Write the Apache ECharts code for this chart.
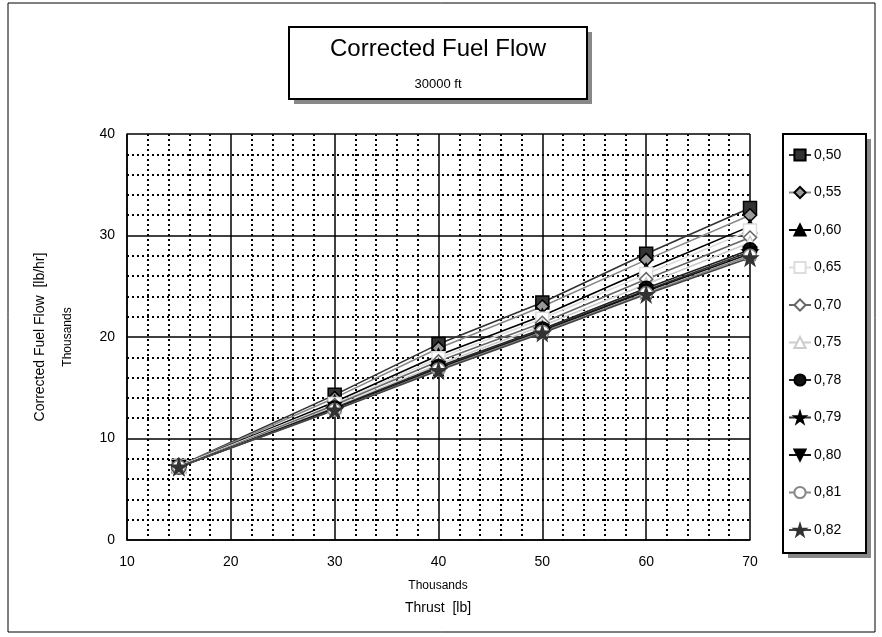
<!DOCTYPE html>
<html><head><meta charset="utf-8">
<script src="https://cdn.jsdelivr.net/npm/echarts@6/dist/echarts.min.js"></script>
<style>html,body{margin:0;padding:0;background:#fff}#c{width:882px;height:637px}</style>
</head><body><div id="c"></div>
<script>
const thrust = [15, 30, 40, 50, 60, 70];
const machNames = ['0,50','0,55','0,60','0,65','0,70','0,75','0,78','0,79','0,80','0,81','0,82'];
const ff050 = [7.3, 14.3, 19.3, 23.4, 28.2, 32.7];
const ff055 = [7.3, 14.0, 18.9, 23.0, 27.6, 32.0];
const ff060 = [7.3, 13.6, 18.2, 22.1, 26.6, 30.9];
const ff065 = [7.3, 13.4, 17.9, 21.8, 26.2, 30.5];
const ff070 = [7.2, 13.3, 17.6, 21.4, 25.7, 29.8];
const ff075 = [7.2, 13.1, 17.3, 21.1, 25.2, 29.3];
const ff078 = [7.2, 13.0, 17.1, 20.8, 24.8, 28.6];
const ff079 = [7.2, 12.9, 17.0, 20.7, 24.6, 28.4];
const ff080 = [7.2, 12.9, 16.9, 20.6, 24.5, 28.2];
const ff081 = [7.2, 12.8, 16.8, 20.5, 24.3, 28.0];
const ff082 = [7.2, 12.8, 16.7, 20.4, 24.2, 27.8];
const allSeries = [ff050, ff055, ff060, ff065, ff070, ff075, ff078, ff079, ff080, ff081, ff082];
const xTicks = [10, 20, 30, 40, 50, 60, 70];
const yTicks = [0, 10, 20, 30, 40];

const star = 'path://M50,0 L61,35 L98,35 L68,57 L79,91 L50,70 L21,91 L32,57 L2,35 L39,35 Z';
const styles = [
  {sym:'rect', fill:'#333', border:'#000', line:'#333', size:13},
  {sym:'diamond', fill:'#999', border:'#000', line:'#888', size:13},
  {sym:'triangle', fill:'#000', border:'#000', line:'#000', size:13},
  {sym:'rect', fill:'#fff', border:'#ddd', line:'#ddd', size:13},
  {sym:'diamond', fill:'#fff', border:'#666', line:'#666', size:13},
  {sym:'triangle', fill:'#fff', border:'#ccc', line:'#ccc', size:13},
  {sym:'circle', fill:'#111', border:'#000', line:'#222', size:14},
  {sym:star, fill:'#000', border:'#000', line:'#333', size:15},
  {sym:'triangle', fill:'#000', border:'#000', line:'#111', size:13, rot:180},
  {sym:'circle', fill:'#fff', border:'#888', line:'#888', size:13},
  {sym:star, fill:'#333', border:'#333', line:'#444', size:15}
];

const series = allSeries.map((vals, i) => ({
  name: machNames[i],
  type: 'line',
  data: thrust.map((t, j) => [t, vals[j]]),
  symbol: styles[i].sym,
  symbolSize: styles[i].size,
  symbolRotate: styles[i].rot || 0,
  showAllSymbol: true,
  lineStyle: {color: styles[i].line, width: 1.6},
  itemStyle: {color: styles[i].fill, borderColor: styles[i].border, borderWidth: 1.5},
  emphasis: {disabled: true},
  animation: false
}));

const chart = echarts.init(document.getElementById('c'), null, {renderer: 'canvas'});
const font = 'Arial, "Liberation Sans", sans-serif';
chart.setOption({
  animation: false,
  backgroundColor: '#fff',
  textStyle: {fontFamily: font, color: '#000'},
  grid: {left: 127, top: 134, width: 623, height: 406, show: false},
  xAxis: {
    type: 'value', min: 10, max: 70, interval: 10,
    axisLine: {show: true, lineStyle: {color: '#000', width: 1.5}},
    axisTick: {show: false},
    axisLabel: {color: '#000', fontSize: 14, fontFamily: font, margin: 15},
    splitLine: {show: true, lineStyle: {color: '#000', width: 1.5}},
    minorTick: {show: false, splitNumber: 5},
    minorSplitLine: {show: true, lineStyle: {color: '#000', width: 2, type: [2, 3]}}
  },
  yAxis: {
    type: 'value', min: 0, max: 40, interval: 10,
    axisLine: {show: true, lineStyle: {color: '#000', width: 1.5}},
    axisTick: {show: false},
    axisLabel: {color: '#000', fontSize: 14, fontFamily: font, margin: 12},
    splitLine: {show: true, lineStyle: {color: '#000', width: 1.5}},
    minorTick: {show: false, splitNumber: 5},
    minorSplitLine: {show: true, lineStyle: {color: '#000', width: 2, type: [2, 3]}}
  },
  legend: {
    orient: 'vertical', left: 788, top: 148,
    itemWidth: 22, itemHeight: 14, itemGap: 23.5,
    itemStyle: {},
    padding: 0,
    textStyle: {fontSize: 14, fontFamily: font, color: '#000', padding: [0, 0, 0, -2]},
    data: machNames,
    selectedMode: false
  },
  graphic: [
    {type: 'rect', z: -10, shape: {x: 8, y: 3, width: 867, height: 629}, style: {fill: 'none', stroke: '#000', lineWidth: 1}},
    {type: 'rect', z: -5, shape: {x: 788, y: 139, width: 83, height: 419}, style: {fill: '#888'}},
    {type: 'rect', z: -4, shape: {x: 783, y: 134, width: 83, height: 419}, style: {fill: '#fff', stroke: '#000', lineWidth: 2}},
    {type: 'rect', z: 10, shape: {x: 294, y: 32, width: 298, height: 72}, style: {fill: '#888'}},
    {type: 'rect', z: 11, shape: {x: 289, y: 27, width: 298, height: 72}, style: {fill: '#fff', stroke: '#000', lineWidth: 2}},
    {type: 'text', z: 12, x: 438, y: 49, style: {text: 'Corrected Fuel Flow', font: '24px ' + font, fill: '#000', textAlign: 'center', textVerticalAlign: 'middle'}},
    {type: 'text', z: 12, x: 438, y: 84, style: {text: '30000 ft', font: '13px ' + font, fill: '#000', textAlign: 'center', textVerticalAlign: 'middle'}},
    {type: 'text', x: 40, y: 337, rotation: Math.PI / 2, style: {text: 'Corrected Fuel Flow  [lb/hr]', font: '14px ' + font, fill: '#000', textAlign: 'center', textVerticalAlign: 'middle'}},
    {type: 'text', x: 68, y: 337, rotation: Math.PI / 2, style: {text: 'Thousands', font: '12px ' + font, fill: '#000', textAlign: 'center', textVerticalAlign: 'middle'}},
    {type: 'text', x: 438, y: 586, style: {text: 'Thousands', font: '12px ' + font, fill: '#000', textAlign: 'center', textVerticalAlign: 'middle'}},
    {type: 'text', x: 438, y: 608, style: {text: 'Thrust  [lb]', font: '14px ' + font, fill: '#000', textAlign: 'center', textVerticalAlign: 'middle'}}
  ],
  series: series
});
</script></body></html>
